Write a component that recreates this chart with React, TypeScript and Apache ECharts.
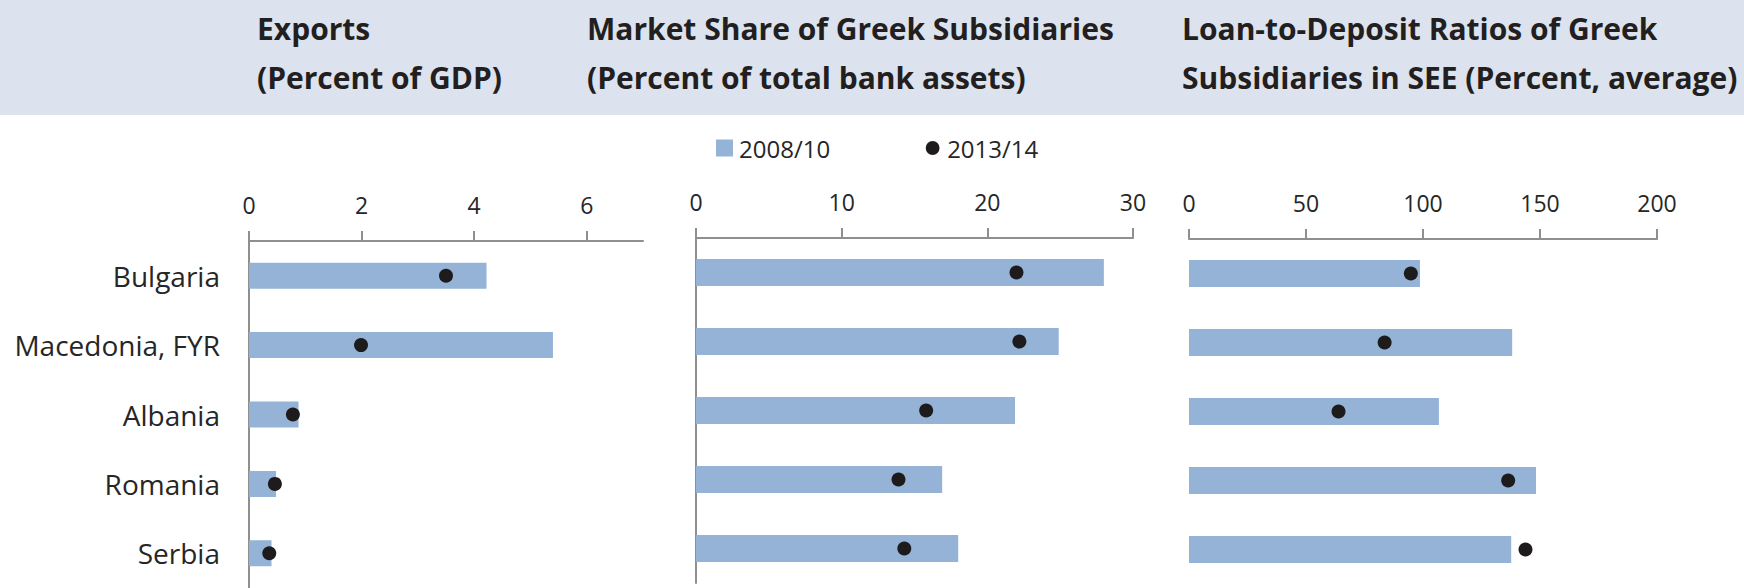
import React, { useEffect, useRef } from "react";
import * as echarts from "echarts";

const categories = ["Bulgaria", "Macedonia, FYR", "Albania", "Romania", "Serbia"];
const seriesNames = ["2008/10", "2013/14"];

const exports0810 = [4.22, 5.4, 0.88, 0.48, 0.4];
const exports1314 = [3.5, 1.99, 0.78, 0.46, 0.36];

const share0810 = [28.0, 24.9, 21.9, 16.9, 18.0];
const share1314 = [22.0, 22.2, 15.8, 13.9, 14.3];

const ltd0810 = [98.7, 138.1, 106.8, 148.3, 137.7];
const ltd1314 = [94.8, 83.6, 63.9, 136.4, 143.8];

const exportTicks = [0, 2, 4, 6];

const titles = [
  ["Exports", "(Percent of GDP)"],
  ["Market Share of Greek Subsidiaries", "(Percent of total bank assets)"],
  ["Loan-to-Deposit Ratios of Greek", "Subsidiaries in SEE (Percent, average)"],
];

const FONT = "'Open Sans', 'Noto Sans', sans-serif";
const BAR = "#95b3d7";
const DOT = "#1e1b1c";
const AXIS = "#8f8f8f";
const TEXT = "#262626";

// small circle inside a 16x16 box (corner points keep the box size)
const SMALL_DOT =
  "path://M0 0L0.01 0M16 16L16.01 16M8 1.5A6.5 6.5 0 1 1 8 14.5A6.5 6.5 0 1 1 8 1.5Z";

export default function App() {
  const ref = useRef<HTMLDivElement>(null);

  useEffect(() => {
    if (!ref.current) return;
    const chart = echarts.init(ref.current, undefined, { renderer: "svg" });

    const grids = [
      { left: 249, top: 241, width: 394, height: 350 },
      { left: 696, top: 238, width: 437, height: 345 },
      { left: 1189, top: 239, width: 468, height: 345 },
    ];

    const xBase = {
      type: "value",
      position: "top",
      min: 0,
      axisLine: { show: true, lineStyle: { color: AXIS, width: 2 } },
      axisTick: { show: true, length: 10, lineStyle: { color: AXIS, width: 2 } },
      axisLabel: { color: TEXT, fontSize: 23, fontFamily: FONT, margin: 25 },
      splitLine: { show: false },
    };

    const xAxes = [
      {
        ...xBase,
        gridIndex: 0,
        max: 7,
        axisTick: { ...xBase.axisTick, customValues: exportTicks },
        axisLabel: { ...xBase.axisLabel, customValues: exportTicks },
      },
      { ...xBase, gridIndex: 1, max: 30, interval: 10 },
      { ...xBase, gridIndex: 2, max: 200, interval: 50 },
    ];

    const yAxes = [0, 1, 2].map((i) => ({
      type: "category",
      gridIndex: i,
      inverse: true,
      data: categories,
      axisLine: { show: i < 2, lineStyle: { color: AXIS, width: 2 } },
      axisTick: { show: false },
      axisLabel: {
        show: i === 0,
        color: TEXT,
        fontSize: 28,
        fontFamily: FONT,
        margin: 29,
      },
      splitLine: { show: false },
    }));

    const barData = [exports0810, share0810, ltd0810];
    const dotData = [exports1314, share1314, ltd1314];
    const barWidths = [26, 27, 27];

    const series: any[] = [];
    for (let i = 0; i < 3; i++) {
      series.push({
        name: seriesNames[0],
        type: "bar",
        xAxisIndex: i,
        yAxisIndex: i,
        data: barData[i],
        barWidth: barWidths[i],
        itemStyle: { color: BAR },
        z: 2,
      });
      series.push({
        name: seriesNames[1],
        type: "scatter",
        xAxisIndex: i,
        yAxisIndex: i,
        data: dotData[i],
        symbol: "circle",
        symbolSize: 14,
        itemStyle: { color: DOT, opacity: 1 },
        z: 3,
      });
    }

    const titleX = [257, 587, 1182];
    const graphicEls: any[] = [
      {
        type: "rect",
        left: 0,
        top: 0,
        shape: { x: 0, y: 0, width: 1744, height: 115 },
        style: { fill: "#dce3ef" },
        z: -10,
      },
    ];
    titles.forEach((lines, i) => {
      lines.forEach((line, j) => {
        graphicEls.push({
          type: "text",
          x: titleX[i],
          y: j === 0 ? 28 : 77,
          style: {
            text: line,
            fill: "#231f20",
            font: `bold 30px ${FONT}`,
            textAlign: "left",
            textVerticalAlign: "middle",
            verticalAlign: "middle",
          },
        });
      });
    });

    chart.setOption({
      animation: false,
      backgroundColor: "#ffffff",
      grid: grids,
      xAxis: xAxes,
      yAxis: yAxes,
      legend: {
        left: 716,
        top: 136,
        padding: 0,
        itemWidth: 17,
        itemHeight: 17,
        itemGap: 94,
        textStyle: {
          color: TEXT,
          fontSize: 24,
          fontFamily: FONT,
          padding: [0, 0, 0, 1],
        },
        data: [
          { name: seriesNames[0], icon: "rect", itemStyle: { color: BAR } },
          { name: seriesNames[1], icon: SMALL_DOT, itemStyle: { color: DOT, opacity: 1 } },
        ],
      },
      graphic: graphicEls,
      series,
    });

    return () => chart.dispose();
  }, []);

  return (
    <div
      ref={ref}
      style={{ position: "fixed", left: 0, top: 0, width: 1744, height: 588, background: "#fff" }}
    />
  );
}
